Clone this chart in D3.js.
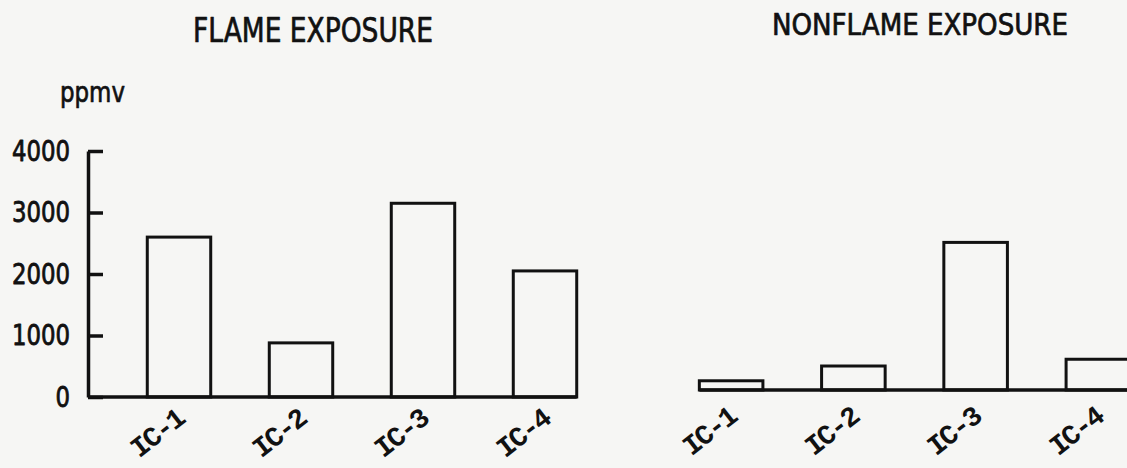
<!DOCTYPE html>
<html>
<head>
<meta charset="utf-8">
<script src="https://cdn.jsdelivr.net/npm/d3@7"></script>
<style>
  html, body { margin: 0; padding: 0; background: #f6f6f4; }
  svg { display: block; }
</style>
</head>
<body>
<svg id="chart" width="1127" height="468"></svg>
<script>
// ---- data ----
const categories = ["IC-1", "IC-2", "IC-3", "IC-4"];
const flameValues = [2600, 880, 3150, 2050];
const nonflameValues = [150, 390, 2400, 500];
const yTickValues = [0, 1000, 2000, 3000, 4000];
const yTickLabels = ["0", "1000", "2000", "3000", "4000"];
const titles = ["FLAME EXPOSURE", "NONFLAME EXPOSURE"];
const unitLabel = "ppmv";

// ---- drawing ----
const svg = d3.select("#chart");
const ink = "#111";
const sansFont = "'DejaVu Sans Condensed', 'DejaVu Sans', sans-serif";
const monoFont = "'Liberation Mono', 'DejaVu Sans Mono', monospace";

// left panel scales
const xL = d3.scaleBand().domain(categories).range([118, 606]).paddingInner(0.48).paddingOuter(0.24);
const yL = d3.scaleLinear().domain([0, 4000]).range([397, 151]);
// right panel scales
const xR = d3.scaleBand().domain(categories).range([670, 1159]).paddingInner(0.48).paddingOuter(0.24);
const yR = d3.scaleLinear().domain([0, 4000]).range([390, 144]);

function boldish(sel, w) {
  return sel.attr("stroke", ink).attr("stroke-width", w).attr("stroke-linejoin", "round");
}

// titles
boldish(svg.append("text").text(titles[0])
  .attr("x", 193).attr("y", 42)
  .attr("textLength", 240).attr("lengthAdjust", "spacingAndGlyphs")
  .style("font-family", sansFont).style("font-size", "34px").attr("fill", ink), 0.7);
boldish(svg.append("text").text(titles[1])
  .attr("x", 772).attr("y", 35)
  .attr("textLength", 296).attr("lengthAdjust", "spacingAndGlyphs")
  .style("font-family", sansFont).style("font-size", "31px").attr("fill", ink), 0.7);

// unit label
boldish(svg.append("text").text(unitLabel)
  .attr("x", 60).attr("y", 102)
  .attr("textLength", 65).attr("lengthAdjust", "spacingAndGlyphs")
  .style("font-family", sansFont).style("font-size", "29px").attr("fill", ink), 0.7);

// y axis (left panel)
const yAxis = d3.axisLeft(yL)
  .tickValues(yTickValues)
  .tickFormat((d, i) => yTickLabels[i])
  .tickSize(-15).tickSizeOuter(0).tickPadding(18);
const gy = svg.append("g").attr("transform", "translate(88,0)").call(yAxis);
gy.select(".domain").attr("stroke", ink).attr("stroke-width", 3.5);
gy.selectAll(".tick line").attr("stroke", ink).attr("stroke-width", 3.5);
boldish(gy.selectAll(".tick text")
  .attr("fill", ink)
  .style("font-family", sansFont).style("font-size", "29px")
  .attr("textLength", d => String(d).length * 14.5)
  .attr("lengthAdjust", "spacingAndGlyphs"), 0.8);

function panel(x, y, values, xStart) {
  const g = svg.append("g");
  // baseline
  const lastX = x(categories[categories.length - 1]) + x.bandwidth();
  g.append("line")
    .attr("x1", xStart).attr("x2", Math.min(lastX, 1127))
    .attr("y1", y(0)).attr("y2", y(0))
    .attr("stroke", ink).attr("stroke-width", 3.5);
  // bars
  g.selectAll("rect.bar").data(values).join("rect")
    .attr("class", "bar")
    .attr("x", (d, i) => x(categories[i]))
    .attr("y", d => y(d))
    .attr("width", x.bandwidth())
    .attr("height", d => y(0) - y(d))
    .attr("fill", "none").attr("stroke", ink).attr("stroke-width", 3);
  // rotated category labels
  g.selectAll("text.cat").data(categories).join("text")
    .attr("class", "cat")
    .text(d => d)
    .attr("text-anchor", "end")
    .attr("transform", d => `translate(${x(d) + x.bandwidth() / 2 + 7},${Math.min(y(0) + 30, 422)}) rotate(-38)`)
    .style("font-family", monoFont).style("font-size", "28px").style("font-weight", "bold")
    .style("letter-spacing", "-2px")
    .attr("fill", ink);
}

panel(xL, yL, flameValues, 88);
panel(xR, yR, nonflameValues, xR(categories[0]));
</script>
</body>
</html>
